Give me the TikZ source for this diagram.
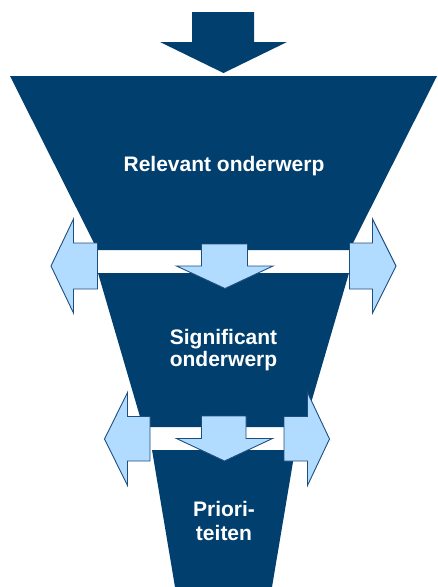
\documentclass[tikz,border=0pt]{standalone}
\usepackage{fontspec}
\setmainfont{Liberation Sans}
\definecolor{navy}{RGB}{0,63,110}
\definecolor{lightb}{RGB}{178,220,255}
\definecolor{edgeb}{RGB}{28,78,128}
\begin{document}
\begin{tikzpicture}[x=1pt,y=-1pt,
  funnel/.style={fill=navy,draw=none},
  lightarrow/.style={fill=lightb,draw=edgeb,line width=0.9pt,line join=miter},
  lbl/.style={text=white,font=\bfseries\fontsize{21}{22}\selectfont,align=center,inner sep=0pt}]
\useasboundingbox (0,0) rectangle (437,587);
% top input arrow
\fill[navy] (192,12) -- (254,12) -- (254,42) -- (287,42) -- (223.5,73) -- (160,42) -- (192,42) -- cycle;
% funnel sections
\path[funnel] (10,76) -- (437,76) -- (349.5,250) -- (97.5,250) -- cycle;
\path[funnel] (98,273) -- (349,273) -- (304,427) -- (143,427) -- cycle;
\path[funnel] (152,450) -- (295,450) -- (272,587) -- (175,587) -- cycle;
% upper band arrows
\draw[lightarrow] (51,266) -- (73.5,219) -- (73.5,243) -- (97.5,243) -- (97.5,289) -- (73.5,289) -- (73.5,313) -- cycle;
\draw[lightarrow] (396,266) -- (372.5,219) -- (372.5,243) -- (349.5,243) -- (349.5,289) -- (372.5,289) -- (372.5,313) -- cycle;
\draw[lightarrow] (201.5,244) -- (247.5,244) -- (247.5,266) -- (273,266) -- (225,288.5) -- (176.5,266) -- (201.5,266) -- cycle;
% lower band arrows
\draw[lightarrow] (104.5,439) -- (127.5,392.5) -- (127.5,416.5) -- (150,416.5) -- (150,461) -- (127.5,461) -- (127.5,485.5) -- cycle;
\draw[lightarrow] (329.5,439) -- (307.5,392.5) -- (307.5,416.5) -- (284,416.5) -- (284,461) -- (307.5,461) -- (307.5,485.5) -- cycle;
\draw[lightarrow] (201.5,416) -- (246,416) -- (246,438.5) -- (272.5,438.5) -- (224.5,461) -- (176.5,438.5) -- (201.5,438.5) -- cycle;
% labels
\node[lbl,anchor=base] (t1) at (224,171) {Relevant onderwerp};
\node[lbl] (t2) at (223.5,350.5) {Significant\\onderwerp};
\node[lbl,font=\bfseries\fontsize{21}{24}\selectfont] (t3) at (224,521) {Priori-\\teiten};
\end{tikzpicture}
\end{document}
